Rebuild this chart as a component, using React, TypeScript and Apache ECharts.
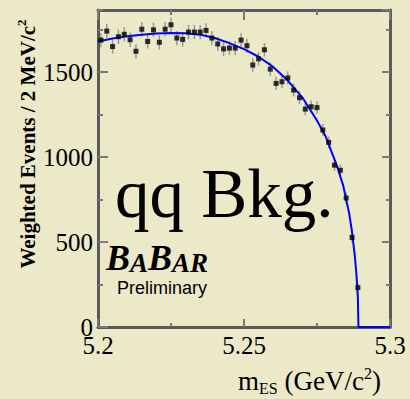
import React, { useEffect, useRef } from "react";
import * as echarts from "echarts";

const binCenters = [
  5.201, 5.203, 5.205, 5.207, 5.209, 5.211, 5.213, 5.215, 5.217, 5.219,
  5.221, 5.223, 5.225, 5.227, 5.229, 5.231, 5.233, 5.235, 5.237, 5.239,
  5.241, 5.243, 5.245, 5.247, 5.249, 5.251, 5.253, 5.255, 5.257, 5.259,
  5.261, 5.263, 5.265, 5.267, 5.269, 5.271, 5.273, 5.275, 5.277, 5.279,
  5.281, 5.283, 5.285, 5.287, 5.289,
];
const weightedEvents = [
  1688, 1741, 1650, 1708, 1722, 1690, 1622, 1752, 1680, 1748,
  1675, 1752, 1778, 1700, 1692, 1735, 1735, 1735, 1745, 1700,
  1665, 1636, 1641, 1641, 1688, 1655, 1541, 1578, 1631, 1517,
  1433, 1443, 1465, 1394, 1349, 1282, 1296, 1291, 1159, 1086,
  952, 922, 759, 527, 232,
];
const eventErrors = [
  42, 42, 42, 42, 42, 42, 42, 42, 42, 42,
  42, 42, 42, 42, 42, 42, 42, 42, 42, 42,
  41, 41, 41, 41, 41, 41, 40, 40, 40, 40,
  39, 39, 39, 38, 38, 37, 37, 37, 36, 35,
  34, 34, 32, 30, 26,
];
const fitX = [
  5.2, 5.205, 5.21, 5.215, 5.22, 5.225, 5.23, 5.235, 5.24, 5.245,
  5.25, 5.255, 5.26, 5.265, 5.27, 5.275, 5.278, 5.28, 5.282, 5.284,
  5.286, 5.287, 5.288, 5.2885, 5.289, 5.2892, 5.3,
];
const fitY = [
  1680, 1697, 1710, 1720, 1727, 1730, 1728, 1720, 1700, 1670,
  1635, 1590, 1530, 1450, 1350, 1215, 1120, 1030, 940, 830,
  670, 560, 410, 310, 170, 0, 0,
];
const xTickLabels = ["5.2", "5.25", "5.3"];
const yTickLabels = ["0", "500", "1000", "1500"];

const SERIF = "Liberation Serif";
const FRAME = "#5a5a5a";
const TICK = "#7a7a7a";

export default function App() {
  const ref = useRef<HTMLDivElement>(null);
  useEffect(() => {
    document.body.style.margin = "0";
    const chart = echarts.init(ref.current!, null, { renderer: "svg" });
    const xBase = {
      type: "value",
      min: 5.2,
      max: 5.3,
      interval: 0.05,
      splitLine: { show: false },
      axisLine: { onZero: false, lineStyle: { color: FRAME, width: 3 } },
    };
    const yBase = {
      type: "value",
      min: 0,
      max: 1865,
      splitLine: { show: false },
      axisLine: { onZero: false, lineStyle: { color: FRAME, width: 3 } },
    };
    const option = {
      animation: false,
      backgroundColor: "#ebe9c8",
      grid: { left: 98, right: 20, top: 10, bottom: 72 },
      xAxis: [
        {
          ...xBase,
          position: "bottom",
          axisTick: { inside: true, length: 8, lineStyle: { color: TICK, width: 2 } },
          minorTick: { show: true, splitNumber: 2, length: 4, lineStyle: { color: TICK, width: 2 } },
          axisLabel: {
            margin: 8,
            fontFamily: SERIF,
            fontSize: 25,
            color: "#000",
            formatter: (v: number) => {
              const s = parseFloat(v.toFixed(3)).toString();
              return xTickLabels.includes(s) ? "{a|" + s + "}" : "";
            },
            rich: {
              a: { fontFamily: SERIF, fontSize: 25, lineHeight: 20, color: "#000" },
            },
          },
        },
        {
          ...xBase,
          position: "top",
          axisTick: { inside: true, length: 10, lineStyle: { color: TICK, width: 2 } },
          minorTick: { show: true, splitNumber: 2, length: 5, lineStyle: { color: TICK, width: 2 } },
          axisLabel: { show: false },
        },
      ],
      yAxis: [
        {
          ...yBase,
          position: "left",
          interval: 500,
          axisTick: { inside: true, length: 10, lineStyle: { color: TICK, width: 2 } },
          axisLabel: {
            margin: 5,
            showMaxLabel: false,
            fontFamily: SERIF,
            fontSize: 25,
            color: "#000",
            formatter: (v: number) => {
              const s = String(Math.round(v));
              return yTickLabels.includes(s) ? "{a|" + s + "}" : "";
            },
            rich: {
              a: { fontFamily: SERIF, fontSize: 25, lineHeight: 18, color: "#000" },
            },
          },
        },
        {
          ...yBase,
          position: "left",
          interval: 250,
          axisLine: { show: false, onZero: false },
          axisTick: { inside: true, length: 5, lineStyle: { color: TICK, width: 2 } },
          axisLabel: { show: false },
        },
        {
          ...yBase,
          position: "right",
          interval: 500,
          axisTick: { inside: true, length: 8, lineStyle: { color: TICK, width: 2 } },
          axisLabel: { show: false },
        },
        {
          ...yBase,
          position: "right",
          interval: 250,
          axisLine: { show: false, onZero: false },
          axisTick: { inside: true, length: 4, lineStyle: { color: TICK, width: 2 } },
          axisLabel: { show: false },
        },
      ],
      series: [
        {
          type: "custom",
          xAxisIndex: 0,
          yAxisIndex: 0,
          z: 2,
          data: binCenters.map((x, i) => [x, weightedEvents[i], eventErrors[i]]),
          encode: { x: 0, y: 1 },
          renderItem: (params: any, api: any) => {
            const x = api.value(0);
            const y = api.value(1);
            const e = api.value(2);
            const p1 = api.coord([x, y + e]);
            const p2 = api.coord([x, y - e]);
            return {
              type: "line",
              shape: { x1: p1[0], y1: p1[1], x2: p2[0], y2: p2[1] },
              style: { stroke: "#999999", lineWidth: 1.5 },
            };
          },
        },
        {
          type: "line",
          xAxisIndex: 0,
          yAxisIndex: 0,
          z: 3,
          showSymbol: false,
          data: fitX.map((x, i) => [x, fitY[i]]),
          lineStyle: { color: "#0000ff", width: 2 },
        },
        {
          type: "scatter",
          xAxisIndex: 0,
          yAxisIndex: 0,
          z: 4,
          symbol: "rect",
          symbolSize: 5,
          itemStyle: { color: "#000" },
          data: binCenters.map((x, i) => [x, weightedEvents[i]]),
        },
      ],
      graphic: [
        {
          type: "text",
          x: 115,
          y: 194,
          z: 10,
          style: {
            text: "qq Bkg.",
            fontFamily: SERIF,
            fontSize: 69,
            fill: "#000",
            verticalAlign: "middle",
            align: "left",
          },
        },
        {
          type: "text",
          x: 106,
          y: 258,
          z: 10,
          style: {
            text: "{b|B}{s|A}{b|B}{s|AR}",
            verticalAlign: "middle",
            rich: {
              b: { fontFamily: SERIF, fontSize: 36, fontStyle: "italic", fontWeight: "bold", fill: "#000", verticalAlign: "bottom" },
              s: { fontFamily: SERIF, fontSize: 27, fontStyle: "italic", fontWeight: "bold", fill: "#000", verticalAlign: "bottom" },
            },
          },
        },
        {
          type: "text",
          x: 117,
          y: 288,
          z: 10,
          style: {
            text: "Preliminary",
            fontFamily: "Liberation Sans",
            fontSize: 18,
            fill: "#000",
            verticalAlign: "middle",
          },
        },
        {
          type: "text",
          x: 28,
          y: 144,
          rotation: Math.PI / 2,
          z: 10,
          style: {
            text: "{t|Weighted Events / 2 MeV/c}{p|2}",
            align: "center",
            verticalAlign: "middle",
            rich: {
              t: { fontFamily: SERIF, fontSize: 21, fontWeight: "bold", fill: "#000" },
              p: { fontFamily: SERIF, fontSize: 13, fontWeight: "bold", fill: "#000", padding: [0, 0, 13, 0] },
            },
          },
        },
        {
          type: "text",
          x: 238,
          y: 381,
          z: 10,
          style: {
            text: "{t|m}{sub|ES}{t| (GeV/c}{sup|2}{t|)}",
            verticalAlign: "middle",
            rich: {
              t: { fontFamily: SERIF, fontSize: 27, fill: "#000" },
              sub: { fontFamily: SERIF, fontSize: 16, fill: "#000", padding: [15, 0, 0, 0] },
              sup: { fontFamily: SERIF, fontSize: 16, fill: "#000", padding: [0, 0, 15, 0] },
            },
          },
        },
      ],
    };
    chart.setOption(option as any);
    return () => chart.dispose();
  }, []);
  return (
    <div
      ref={ref}
      style={{ position: "absolute", left: 0, top: 0, width: 410, height: 399 }}
    />
  );
}
